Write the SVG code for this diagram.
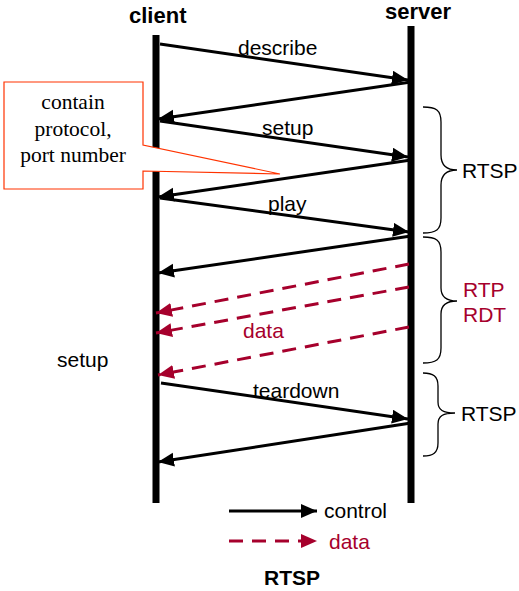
<svg xmlns="http://www.w3.org/2000/svg" width="519" height="591" viewBox="0 0 519 591">
<style>
.t{font-family:"Liberation Sans",Arial,sans-serif;font-size:21px;fill:#000}
.b{font-weight:bold;font-size:22px}
.r{fill:#a6002c}
.s{font-family:"Liberation Serif","Times New Roman",serif;font-size:21.5px;fill:#000;text-anchor:middle}
.ctl{stroke:#000;stroke-width:3;fill:none;marker-end:url(#ah)}
.dat{stroke:#a6002c;stroke-width:3;fill:none;stroke-dasharray:14 9;marker-end:url(#ahr)}
.life{stroke:#000;stroke-width:7}
.br{fill:none;stroke:#000;stroke-width:1.3}
</style>
<defs>
<marker id="ah" markerUnits="userSpaceOnUse" markerWidth="18" markerHeight="16" refX="16" refY="7" orient="auto"><path d="M0,0 L16,7 L0,14 z" fill="#000"/></marker>
<marker id="ahr" markerUnits="userSpaceOnUse" markerWidth="18" markerHeight="16" refX="16" refY="7" orient="auto"><path d="M0,0 L16,7 L0,14 z" fill="#a6002c"/></marker>
</defs>
<rect width="519" height="591" fill="#fff"/>
<g id="client">
<text class="t b" x="129" y="23">client</text>
<line class="life" x1="156" y1="35" x2="156" y2="503"/>
</g>
<g id="server">
<text class="t b" x="385" y="19">server</text>
<line class="life" x1="411" y1="26" x2="411" y2="503"/>
</g>
<g id="callout">
<path d="M4,82 H143 V145 L280,174 L143,171 V189 H4 Z" fill="#fff" stroke="#ff3300" stroke-width="1.2"/>
<text class="s" x="73" y="109">contain</text>
<text class="s" x="73" y="136">protocol,</text>
<text class="s" x="73" y="162">port number</text>
</g>
<g id="connectors">
<line class="ctl" x1="160" y1="44" x2="408" y2="80"/>
<line class="ctl" x1="411" y1="82" x2="158" y2="119"/>
<line class="ctl" x1="160" y1="121" x2="408" y2="157"/>
<line class="ctl" x1="411" y1="160" x2="158" y2="197"/>
<line class="ctl" x1="160" y1="198" x2="409" y2="232"/>
<line class="ctl" x1="411" y1="236" x2="158" y2="273"/>
<line class="dat" x1="409" y1="264" x2="156" y2="313"/>
<line class="dat" x1="409" y1="287" x2="156" y2="333"/>
<line class="dat" x1="409" y1="327" x2="158" y2="375"/>
<line class="ctl" x1="161" y1="383" x2="408" y2="419"/>
<line class="ctl" x1="411" y1="423" x2="158" y2="462"/>
</g>
<g id="labels">
<text class="t" x="238" y="55">describe</text>
<text class="t" x="262" y="135">setup</text>
<text class="t" x="268" y="211">play</text>
<text class="t r" x="243" y="338">data</text>
<text class="t" x="253" y="398">teardown</text>
<text class="t" x="57" y="367">setup</text>
</g>
<g id="brace-rtsp1">
<path class="br" d="M423,107 C436,107 441,110 441,122 V155 C441,165 446,170 457,170 C446,170 441,175 441,185 V218 C441,230 436,233 423,233"/>
<text class="t" x="462" y="178">RTSP</text>
</g>
<g id="brace-rtp">
<path class="br" d="M423,237 C436,237 441,240 441,252 V288 C441,297 446,301 457,301 C446,301 441,305 441,314 V348 C441,360 436,363 423,363" stroke="#a6002c"/>
<text class="t r" x="463" y="297">RTP</text>
<text class="t r" x="463" y="322">RDT</text>
</g>
<g id="brace-rtsp2">
<path class="br" d="M423,373 C433,373 438,376 438,386 V402 C438,410 443,413 455,413 C443,413 438,416 438,424 V443 C438,453 433,456 423,456"/>
<text class="t" x="461" y="421">RTSP</text>
</g>
<g id="legend">
<line class="ctl" x1="229" y1="511" x2="317" y2="511"/>
<text class="t" x="324" y="518">control</text>
<line class="dat" x1="229" y1="541" x2="317" y2="541"/>
<text class="t r" x="329" y="549">data</text>
<text class="t b" x="264" y="585" style="font-size:21px">RTSP</text>
</g>
</svg>
